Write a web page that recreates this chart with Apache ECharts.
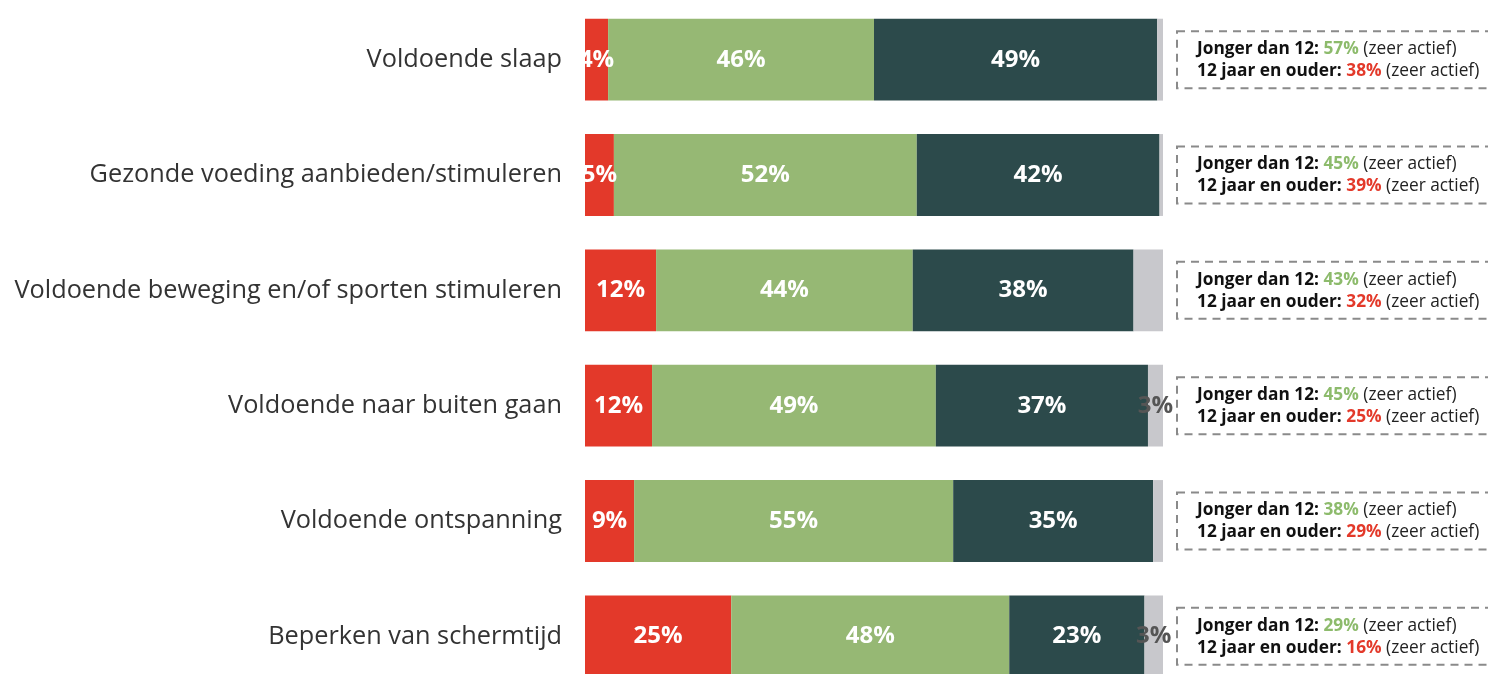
<!DOCTYPE html>
<html>
<head>
<meta charset="utf-8">
<script src="https://cdn.jsdelivr.net/npm/echarts@6/dist/echarts.min.js"></script>
<style>
  html, body { margin: 0; padding: 0; background: #fff; }
  #main { width: 1488px; height: 674px; }
</style>
</head>
<body>
<div id="main"></div>
<script>
const categories = [
    'Voldoende slaap',
    'Gezonde voeding aanbieden/stimuleren',
    'Voldoende beweging en/of sporten stimuleren',
    'Voldoende naar buiten gaan',
    'Voldoende ontspanning',
    'Beperken van schermtijd'
];
// shares per answer (in %)
const weinig = [4, 5, 12.3, 11.6, 8.5, 25.3];
const actief = [46, 52.4, 44.4, 49.1, 55.2, 48.1];
const zeerActief = [49, 42, 38.2, 36.7, 34.6, 23.4];
const onbekend = [1, 0.6, 5.1, 2.6, 1.7, 3.2];
// zeer actief per age group
const jongerDan12 = [57, 45, 43, 45, 38, 29];
const ouderDan12 = [38, 39, 32, 25, 29, 16];

const font = 'Open Sans';

function seg(name, data, color, labelColor, showIf) {
    return {
        name: name,
        type: 'bar',
        stack: 'total',
        data: data,
        barCategoryGap: '29%',
        itemStyle: { color: color },
        label: {
            show: true,
            position: 'inside',
            color: labelColor,
            fontFamily: font,
            fontWeight: 'bold',
            fontSize: 24,
            formatter: p => showIf(p.value) ? Math.round(p.value) + '%' : ''
        },
        emphasis: { disabled: true }
    };
}

const chart = echarts.init(document.getElementById('main'));
chart.setOption({
    animation: false,
    grid: { left: 585, right: 325, top: 2, height: 692, outerBoundsMode: 'none', containLabel: false },
    xAxis: { type: 'value', min: 0, max: 100, show: false },
    yAxis: [{
        type: 'category',
        data: categories,
        inverse: true,
        axisLine: { show: false },
        axisTick: { show: false },
        axisLabel: {
            margin: 23,
            fontSize: 25.3,
            color: '#333',
            fontFamily: font
        }
    }, {
        type: 'category',
        data: categories,
        inverse: true,
        position: 'right',
        axisLine: { show: false },
        axisTick: { show: false },
        axisLabel: {
            margin: 14,
            align: 'left',
            verticalAlign: 'middle',
            padding: [7, 90, 6, 20],
            borderColor: '#8a8a8a',
            borderWidth: 2,
            borderType: [8, 6],
            lineHeight: 22,
            formatter: (v, i) =>
                '{b|Jonger dan 12: }{g|' + jongerDan12[i] + '%}{n| (zeer actief)}\n' +
                '{b|12 jaar en ouder: }{r|' + ouderDan12[i] + '%}{n| (zeer actief)}',
            rich: {
                b: { fontFamily: font, fontWeight: 'bold', fontSize: 17.3, color: '#111', lineHeight: 22 },
                g: { fontFamily: font, fontWeight: 'bold', fontSize: 17.3, color: '#8dbb6c', lineHeight: 22 },
                r: { fontFamily: font, fontWeight: 'bold', fontSize: 17.3, color: '#e3392a', lineHeight: 22 },
                n: { fontFamily: font, fontSize: 17.3, color: '#222', lineHeight: 22 }
            }
        }
    }],
    series: [
        seg('Weinig actief', weinig, '#e3392a', '#fff', () => true),
        seg('Actief', actief, '#96b874', '#fff', () => true),
        seg('Zeer actief', zeerActief, '#2c4a4b', '#fff', () => true),
        seg('Weet niet', onbekend, '#c8c8cc', '#555', v => v >= 2.5 && v < 4)
    ]
});
</script>
</body>
</html>
